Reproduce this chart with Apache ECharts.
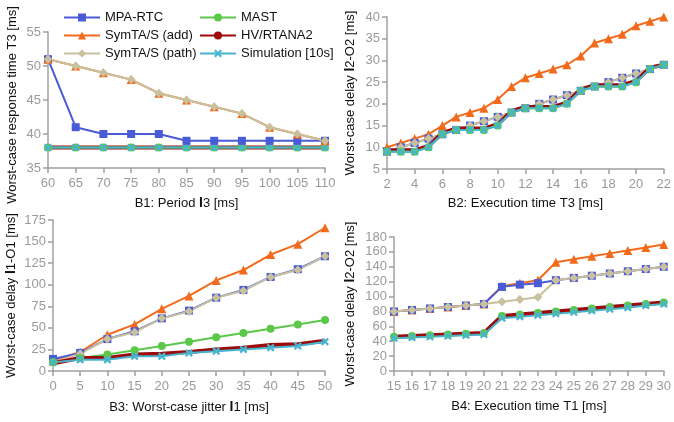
<!DOCTYPE html>
<html>
<head>
<meta charset="UTF-8">
<title>Worst-case delays</title>
<script src="https://cdn.jsdelivr.net/npm/echarts@6/dist/echarts.min.js"></script>
<style>
body { margin: 0; background: #fff; }
#chart { width: 674px; height: 422px; }
</style>
</head>
<body>
<div id="chart"></div>
<script>
// ---- data ----
var b1X = [60, 65, 70, 75, 80, 85, 90, 95, 100, 105, 110];
var b1Mpa = [51, 41, 40, 40, 40, 39, 39, 39, 39, 39, 39];
var b1Add = [51, 50, 49, 48, 46, 45, 44, 43, 41, 40, 39];
var b1Path = [51, 50, 49, 48, 46, 45, 44, 43, 41, 40, 39];
var b1Mast = [38, 38, 38, 38, 38, 38, 38, 38, 38, 38, 38];
var b1Hv = [38, 38, 38, 38, 38, 38, 38, 38, 38, 38, 38];
var b1Sim = [38, 38, 38, 38, 38, 38, 38, 38, 38, 38, 38];

var b2X = [2, 3, 4, 5, 6, 7, 8, 9, 10, 11, 12, 13, 14, 15, 16, 17, 18, 19, 20, 21, 22];
var b2Mpa = [9, 10, 11, 12, 13, 14, 15, 16, 17, 18, 19, 20, 21, 22, 23, 24, 25, 26, 27, 28, 29];
var b2Add = [10, 11, 12, 13, 15, 17, 18, 19, 21, 24, 26, 27, 28, 29, 31, 34, 35, 36, 38, 39, 40];
var b2Path = [9, 10, 11, 12, 13, 14, 15, 16, 17, 18, 19, 20, 21, 22, 23, 24, 25, 26, 27, 28, 29];
var b2Mast = [9, 9, 9, 10, 13, 14, 14, 14, 15, 18, 19, 19, 19, 20, 23, 24, 24, 24, 25, 28, 29];
var b2Hv = [9.3, 9.3, 9.3, 10.3, 13.3, 14.3, 14.3, 14.3, 15.3, 18.3, 19.3, 19.3, 19.3, 20.3, 23.3, 24.3, 24.3, 24.3, 25.3, 28.3, 29];
var b2Sim = [9, 9, 9, 10, 13, 14, 14, 14, 15, 18, 19, 19, 19, 20, 23, 24, 24, 24, 25, 28, 29];

var b3X = [0, 5, 10, 15, 20, 25, 30, 35, 40, 45, 50];
var b3Mpa = [14, 21, 37, 46, 61, 70, 85, 94, 109, 118, 133];
var b3Add = [12, 22, 42, 54, 72, 87, 105, 117, 135, 147, 166];
var b3Path = [10, 20, 37, 45, 61, 69, 85, 93, 109, 117, 133];
var b3Mast = [10, 15, 19, 24, 29, 34, 39, 44, 49, 54, 59];
var b3Hv = [9, 15, 15, 19, 20, 22, 25, 27, 30, 31, 35];
var b3Sim = [10, 13, 13, 17, 17, 21, 23, 25, 27, 29, 34];

var b4X = [15, 16, 17, 18, 19, 20, 21, 22, 23, 24, 25, 26, 27, 28, 29, 30];
var b4Mpa = [80, 82, 84, 86, 88, 90, 113, 116, 118, 122, 125, 128, 131, 134, 137, 140];
var b4Add = [80, 82, 84, 86, 88, 90, 114, 118, 122, 146, 150, 154, 158, 162, 166, 170];
var b4Path = [80, 82, 84, 86, 88, 90, 93, 96, 99, 122, 125, 128, 131, 134, 137, 140];
var b4Mast = [46, 47, 48, 49, 50, 51, 74, 76, 78, 80, 82, 84, 86, 88, 90, 92];
var b4Hv = [46, 47, 48, 49, 50, 51, 74, 76, 78, 80, 82, 84, 86, 88, 90, 92];
var b4Sim = [44, 45, 46, 47, 48, 49, 71, 73, 75, 77, 79, 81, 83, 85, 88, 90];

// {b|I} = the heavy "I" glyph of the original figure
var xTitles = ['B1: Period {b|I}3 [ms]', 'B2: Execution time T3 [ms]', 'B3: Worst-case jitter {b|I}1 [ms]', 'B4: Execution time T1 [ms]'];
var yTitles = ['Worst-case response time T3 [ms]', 'Worst-case delay {b|I}2-O2 [ms]', 'Worst-case delay {b|I}1-O1 [ms]', 'Worst-case delay {b|I}2-O2 [ms]'];

// ---- styles ----
var FONT = 'Liberation Sans, Arial, sans-serif';
var GREY = '#a0a0a0';
var LBL = '#9a9a9a';
var crossPath = 'path://M0,2L2,0L5,3L8,0L10,2L7,5L10,8L8,10L5,7L2,10L0,8L3,5Z';

var styles = {
    'MPA-RTC':          { color: '#4a5bd6', symbol: 'rect', size: 8, width: 2 },
    'MAST':             { color: '#5cc84a', symbol: 'circle', size: 8, width: 2 },
    'SymTA/S (add)':    { color: '#f26a1b', symbol: 'triangle', size: 9, width: 2 },
    'HV/RTANA2':        { color: '#9c0a0a', symbol: 'none', size: 0, width: 4 },
    'SymTA/S (path)':   { color: '#c9c09e', symbol: 'diamond', size: 9, width: 2 },
    'Simulation [10s]': { color: '#48b4d0', symbol: crossPath, size: 8, width: 2 }
};

function pairs(xs, ys) {
    return xs.map(function (x, i) { return [x, ys[i]]; });
}

function mk(name, idx, xs, ys) {
    var s = styles[name];
    return {
        name: name, type: 'line', xAxisIndex: idx, yAxisIndex: idx,
        data: pairs(xs, ys),
        symbol: s.symbol, symbolSize: s.size, showSymbol: s.symbol !== 'none',
        lineStyle: { color: s.color, width: s.width },
        itemStyle: { color: s.color },
        animation: false
    };
}

var grids = [
    { left: 48, right: 349, top: 32, height: 136 },
    { left: 387, right: 8, top: 17, height: 152 },
    { left: 53, right: 349, top: 220, height: 151 },
    { left: 394, right: 8, top: 237, height: 134 }
];

var xCfg = [
    { min: 60, max: 110, interval: 5, gap: 28 },
    { min: 2, max: 22, interval: 2, gap: 28 },
    { min: 0, max: 50, interval: 5, gap: 29 },
    { min: 15, max: 30, interval: 1, gap: 29 }
];
var yCfg = [
    { min: 35, max: 55, interval: 5, gap: 29 },
    { min: 5, max: 40, interval: 5, gap: 30 },
    { min: 0, max: 175, interval: 25, gap: 35 },
    { min: 0, max: 180, interval: 20, gap: 37 }
];

var axisLine = { show: true, lineStyle: { color: GREY, width: 1.5 } };
var axisTick = { show: true, length: 5, lineStyle: { color: GREY, width: 1.5 } };
var nameStyle = {
    color: '#111', fontSize: 13, fontFamily: FONT,
    rich: { b: { color: '#111', fontSize: 14, fontWeight: 'bold', fontFamily: FONT } }
};

var xAxes = xCfg.map(function (c, i) {
    return {
        type: 'value', gridIndex: i, min: c.min, max: c.max, interval: c.interval,
        name: xTitles[i], nameLocation: 'middle', nameGap: c.gap,
        nameTextStyle: nameStyle,
        axisLine: axisLine, axisTick: axisTick, splitLine: { show: false },
        axisLabel: { color: LBL, fontSize: 13, fontFamily: FONT, margin: 9, showMinLabel: true, showMaxLabel: true }
    };
});
var yAxes = yCfg.map(function (c, i) {
    return {
        type: 'value', gridIndex: i, min: c.min, max: c.max, interval: c.interval,
        // the first panel's title is longer than its axis, it is drawn as a graphic below
        name: i === 0 ? '' : yTitles[i], nameLocation: 'middle', nameGap: c.gap, nameRotate: 90,
        nameTextStyle: nameStyle,
        axisLine: axisLine, axisTick: axisTick, splitLine: { show: false },
        axisLabel: { color: LBL, fontSize: 13, fontFamily: FONT, margin: 7, showMinLabel: true, showMaxLabel: true }
    };
});

var series = [
    mk('HV/RTANA2', 0, b1X, b1Hv), mk('MAST', 0, b1X, b1Mast), mk('Simulation [10s]', 0, b1X, b1Sim),
    mk('MPA-RTC', 0, b1X, b1Mpa), mk('SymTA/S (add)', 0, b1X, b1Add), mk('SymTA/S (path)', 0, b1X, b1Path),

    mk('SymTA/S (add)', 1, b2X, b2Add), mk('MPA-RTC', 1, b2X, b2Mpa), mk('SymTA/S (path)', 1, b2X, b2Path),
    mk('HV/RTANA2', 1, b2X, b2Hv), mk('MAST', 1, b2X, b2Mast), mk('Simulation [10s]', 1, b2X, b2Sim),

    mk('SymTA/S (add)', 2, b3X, b3Add), mk('MPA-RTC', 2, b3X, b3Mpa), mk('SymTA/S (path)', 2, b3X, b3Path),
    mk('MAST', 2, b3X, b3Mast), mk('HV/RTANA2', 2, b3X, b3Hv), mk('Simulation [10s]', 2, b3X, b3Sim),

    mk('SymTA/S (add)', 3, b4X, b4Add), mk('MPA-RTC', 3, b4X, b4Mpa), mk('SymTA/S (path)', 3, b4X, b4Path),
    mk('MAST', 3, b4X, b4Mast), mk('HV/RTANA2', 3, b4X, b4Hv), mk('Simulation [10s]', 3, b4X, b4Sim)
];

var legendBase = {
    orient: 'vertical', top: 6, itemWidth: 36, itemHeight: 10, itemGap: 5,
    textStyle: { color: '#111', fontSize: 13, fontFamily: FONT },
    backgroundColor: 'rgba(255,255,255,0)'
};

var chart = echarts.init(document.getElementById('chart'), null, { renderer: 'canvas' });
chart.setOption({
    animation: false,
    grid: grids,
    xAxis: xAxes,
    yAxis: yAxes,
    legend: [
        Object.assign({}, legendBase, { left: 58, data: ['MPA-RTC', 'SymTA/S (add)', 'SymTA/S (path)'] }),
        Object.assign({}, legendBase, { left: 194, data: ['MAST', 'HV/RTANA2', 'Simulation [10s]'] })
    ],
    graphic: [{
        type: 'text', x: 12, y: 105, rotation: Math.PI / 2,
        style: {
            text: yTitles[0], fill: '#111', font: '13px ' + FONT,
            align: 'center', verticalAlign: 'middle'
        }
    }],
    series: series
});
</script>
</body>
</html>
